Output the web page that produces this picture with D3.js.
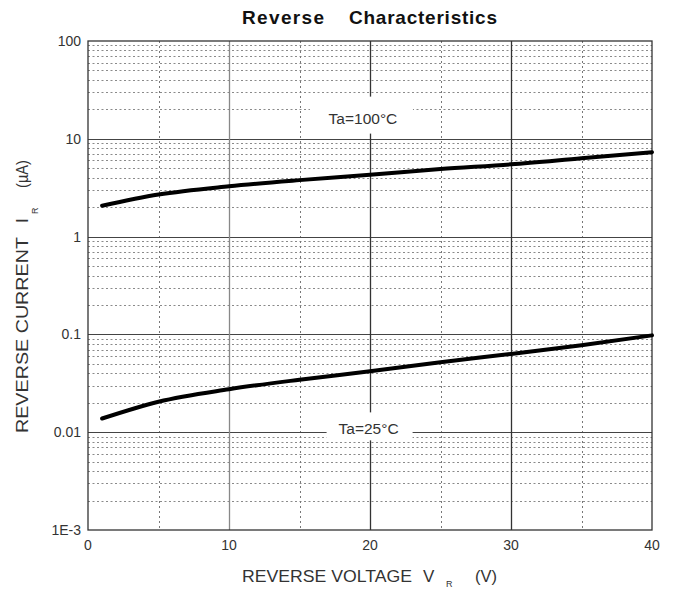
<!DOCTYPE html>
<html>
<head>
<meta charset="utf-8">
<script src="https://cdn.jsdelivr.net/npm/d3@7"></script>
<style>
  html, body { margin: 0; padding: 0; background: #fff; }
  svg { display: block; font-family: "Liberation Sans", Arial, sans-serif; }
</style>
</head>
<body>
<svg id="chart" width="674" height="589"></svg>
<script>
// ---- data ----
const voltage    = [1, 5, 10, 15, 20, 25, 30, 35, 40];
const current100 = [2.07, 2.69, 3.27, 3.78, 4.28, 4.91, 5.48, 6.33, 7.3];
const current25  = [0.0138, 0.0205, 0.0275, 0.0344, 0.0419, 0.0519, 0.0632, 0.0776, 0.0977];

const xTicks      = [0, 10, 20, 30, 40];
const xMinorTicks = [5, 15, 25, 35];
const yTicks      = [100, 10, 1, 0.1, 0.01, 0.001];
const yTickLabels = ["100", "10", "1", "0.1", "0.01", "1E-3"];
const curveLabels = ["Ta=100°C", "Ta=25°C"];
const labelPosV   = [19.5, 19.9];
const labelPosI   = [14.3, 0.0095];

// ---- layout ----
const L = 88, R = 652, T = 41, B = 530;
const svg = d3.select("#chart");
const x = d3.scaleLinear().domain([0, 40]).range([L, R]);
const y = d3.scaleLog().domain([0.001, 100]).range([B, T]);

// minor horizontal grid (2..9 of each decade)
const minorY = [];
for (let d = -3; d < 2; d++) for (let k = 2; k <= 9; k++) minorY.push(k * Math.pow(10, d));
svg.append("g").selectAll("line").data(minorY).join("line")
  .attr("x1", L).attr("x2", R)
  .attr("y1", d => Math.round(y(d)) + 0.5).attr("y2", d => Math.round(y(d)) + 0.5)
  .attr("stroke", "#8a8a8a").attr("stroke-width", 1).attr("stroke-dasharray", "2,2.5");

// minor vertical grid
svg.append("g").selectAll("line").data(xMinorTicks).join("line")
  .attr("x1", d => Math.round(x(d)) + 0.5).attr("x2", d => Math.round(x(d)) + 0.5)
  .attr("y1", T).attr("y2", B)
  .attr("stroke", "#777").attr("stroke-width", 1).attr("stroke-dasharray", "2,3");

// major horizontal grid
svg.append("g").selectAll("line").data(yTicks.slice(1, -1)).join("line")
  .attr("x1", L).attr("x2", R)
  .attr("y1", d => Math.round(y(d)) + 0.5).attr("y2", d => Math.round(y(d)) + 0.5)
  .attr("stroke", "#444").attr("stroke-width", 1.2);

// major vertical grid
svg.append("g").selectAll("line").data(xTicks.slice(1, -1)).join("line")
  .attr("x1", d => Math.round(x(d)) + 0.5).attr("x2", d => Math.round(x(d)) + 0.5)
  .attr("y1", T).attr("y2", B)
  .attr("stroke", (d, i) => i === 0 ? "#888" : "#333").attr("stroke-width", 1.3);

// border
svg.append("rect").attr("x", L).attr("y", T).attr("width", R - L).attr("height", B - T)
  .attr("fill", "none").attr("stroke", "#333").attr("stroke-width", 1.3);

// curves
const line = d3.line().x(d => x(d[0])).y(d => y(d[1])).curve(d3.curveMonotoneX);
[current100, current25].forEach(series => {
  svg.append("path")
    .datum(voltage.map((v, i) => [v, series[i]]))
    .attr("d", line)
    .attr("fill", "none").attr("stroke", "#000").attr("stroke-width", 4)
    .attr("stroke-linecap", "round");
});

// curve labels with white boxes
const lblBox = [[-53, -27, 103, 37], [-42, -22, 86, 28]];
curveLabels.forEach((t, i) => {
  const cx = x(labelPosV[i]), cy = y(labelPosI[i]);
  svg.append("rect")
    .attr("x", cx + lblBox[i][0]).attr("y", cy + lblBox[i][1])
    .attr("width", lblBox[i][2]).attr("height", lblBox[i][3]).attr("fill", "#fff");
  svg.append("text").attr("x", cx).attr("y", cy)
    .attr("text-anchor", "middle").attr("font-size", 15.5).attr("fill", "#333")
    .text(t);
});

// y tick labels
svg.append("g").selectAll("text").data(yTicks).join("text")
  .attr("x", 81).attr("y", d => y(d) + 5)
  .attr("text-anchor", "end").attr("font-size", 14).attr("fill", "#333")
  .text((d, i) => yTickLabels[i]);

// x tick labels
svg.append("g").selectAll("text").data(xTicks).join("text")
  .attr("x", d => x(d)).attr("y", 550)
  .attr("text-anchor", "middle").attr("font-size", 14).attr("fill", "#333")
  .text(d => d);

// title
svg.append("text").attr("x", 242).attr("y", 24).attr("font-size", 19).attr("font-weight", "bold")
  .attr("fill", "#111").attr("textLength", 82).attr("lengthAdjust", "spacing").text("Reverse");
svg.append("text").attr("x", 349).attr("y", 24).attr("font-size", 19).attr("font-weight", "bold")
  .attr("fill", "#111").attr("textLength", 148).attr("lengthAdjust", "spacing").text("Characteristics");

// x axis title
const xt = svg.append("g").attr("fill", "#333");
xt.append("text").attr("x", 242).attr("y", 582).attr("font-size", 17)
  .attr("textLength", 170).attr("lengthAdjust", "spacingAndGlyphs").text("REVERSE VOLTAGE");
xt.append("text").attr("x", 423).attr("y", 582).attr("font-size", 17).text("V");
xt.append("text").attr("x", 446).attr("y", 587).attr("font-size", 9).text("R");
xt.append("text").attr("x", 475).attr("y", 582).attr("font-size", 17)
  .attr("textLength", 22).attr("lengthAdjust", "spacingAndGlyphs").text("(V)");

// y axis title (rotated)
const yt = svg.append("g").attr("transform", "rotate(-90)").attr("fill", "#333");
yt.append("text").attr("x", -433).attr("y", 28).attr("font-size", 17)
  .attr("textLength", 196).attr("lengthAdjust", "spacingAndGlyphs").text("REVERSE CURRENT");
yt.append("text").attr("x", -223).attr("y", 28).attr("font-size", 17).text("I");
yt.append("text").attr("x", -214).attr("y", 38).attr("font-size", 9).text("R");
yt.append("text").attr("x", -188).attr("y", 28).attr("font-size", 17)
  .attr("textLength", 28).attr("lengthAdjust", "spacingAndGlyphs").text("(µA)");
</script>
</body>
</html>
